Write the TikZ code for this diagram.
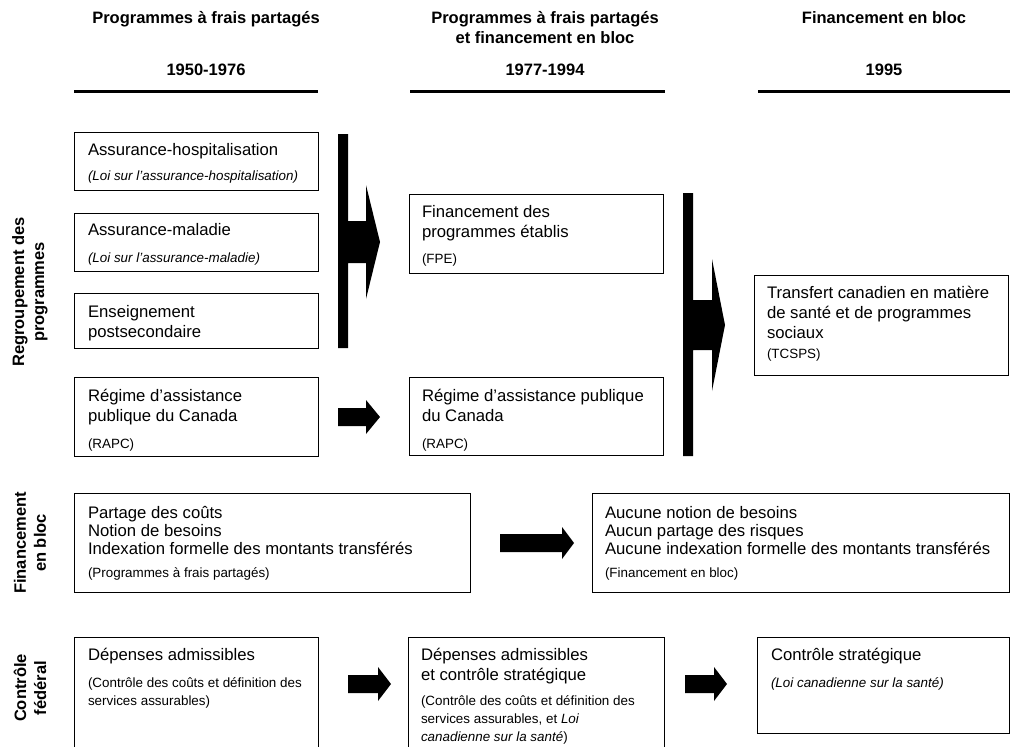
\documentclass[tikz,border=0pt]{standalone}
\usepackage{fontspec}
\setmainfont{Liberation Sans}
\newcommand{\fmain}{\fontsize{16.7}{19.8}\selectfont}
\newcommand{\fmainb}{\fontsize{16.7}{18.3}\selectfont}
\newcommand{\fsmall}{\fontsize{13.4}{18}\selectfont}
\newcommand{\fhead}{\fontsize{16.5}{20}\selectfont\bfseries}
\newcommand{\mybox}[5]{\node[box, minimum width={#4-#2}, minimum height={#5-#3}] (#1) at (#2,#3) {};}
\begin{document}
\begin{tikzpicture}[x=1pt,y=-1pt,
  box/.style={draw, line width=0.9pt, inner sep=0pt, outer sep=0pt, anchor=north west},
  txt/.style={anchor=north west, inner sep=0pt, outer sep=0pt, align=left, font=\fmain},
  txtb/.style={anchor=north west, inner sep=0pt, outer sep=0pt, align=left, font=\fmainb},
  stxt/.style={anchor=north west, inner sep=0pt, outer sep=0pt, align=left, font=\fsmall},
  hd/.style={anchor=north, inner sep=0pt, outer sep=0pt, align=center, font=\fhead},
  lbl/.style={rotate=90, inner sep=0pt, outer sep=0pt, align=center, font=\fhead},
  rule/.style={line width=3pt},
  blockarrow/.style={fill=black, draw=none}]
\useasboundingbox (0,0) rectangle (1013,747);
\fill[white] (0,0) rectangle (1013,747);

% headers
\node[hd] (h1) at (206,9) {\strut Programmes à frais partagés};
\node[hd] (h2) at (545,9) {\strut Programmes à frais partagés\\et financement en bloc};
\node[hd] (h3) at (884,9) {\strut Financement en bloc};
\node[hd] (y1) at (206,61) {\strut 1950-1976};
\node[hd] (y2) at (545,61) {\strut 1977-1994};
\node[hd] (y3) at (884,61) {\strut 1995};
\coordinate (r1a) at (74,91);  \coordinate (r1b) at (318,91);
\coordinate (r2a) at (410,91); \coordinate (r2b) at (665,91);
\coordinate (r3a) at (758,91); \coordinate (r3b) at (1010,91);
\draw[rule] (r1a) -- (r1b);
\draw[rule] (r2a) -- (r2b);
\draw[rule] (r3a) -- (r3b);

% side labels
\node[lbl] (s1) at (30,292) {Regroupement des\\programmes};
\node[lbl] (s2) at (30,543) {Financement\\en bloc};
\node[lbl] (s3) at (30,688) {Contrôle\\fédéral};

% row 1 boxes
\mybox{a1}{74}{132}{318}{190}
\mybox{a2}{74}{213}{318}{271}
\mybox{a3}{74}{293}{318}{348}
\mybox{a4}{74}{377}{318}{456}
\mybox{b1}{409}{194}{663}{273}
\mybox{b2}{409}{377}{663}{455}
\mybox{c1}{754}{275}{1008}{375}

\node[txt] (a1t) at (88,142.1) {\strut Assurance-hospitalisation};
\node[stxt] (a1s) at (88,167.4) {\strut\itshape (Loi sur l’assurance-hospitalisation)};
\node[txt] (a2t) at (88,222.1) {\strut Assurance-maladie};
\node[stxt] (a2s) at (88,249.4) {\strut\itshape (Loi sur l’assurance-maladie)};
\node[txt] (a3t) at (88,304.1) {\strut Enseignement\\postsecondaire};
\node[txt] (a4t) at (88,388.1) {\strut Régime d’assistance\\publique du Canada};
\node[stxt] (a4s) at (88,435.4) {\strut (RAPC)};
\node[txt] (b1t) at (422,204.1) {\strut Financement des\\programmes établis};
\node[stxt] (b1s) at (422,250.4) {\strut (FPE)};
\node[txt] (b2t) at (422,388.1) {\strut Régime d’assistance publique\\du Canada};
\node[stxt] (b2s) at (422,435.4) {\strut (RAPC)};
\node[txt] (c1t) at (767,285.1) {\strut Transfert canadien en matière\\de santé et de programmes\\sociaux};
\node[stxt] (c1s) at (767,345.4) {\strut (TCSPS)};

% row 1 arrows
\fill[blockarrow] (338,134) -- (348,134) -- (348,221) -- (366,221) -- (366,185) -- (380,242)
  -- (366,299) -- (366,263) -- (348,263) -- (348,348) -- (338,348) -- cycle;
\fill[blockarrow] (338,408) -- (366,408) -- (366,400) -- (380,417) -- (366,434) -- (366,426)
  -- (338,426) -- cycle;
\fill[blockarrow] (683,193) -- (693,193) -- (693,300) -- (712,300) -- (712,259) -- (725,325)
  -- (712,391) -- (712,350) -- (693,350) -- (693,456) -- (683,456) -- cycle;

% row 2
\mybox{d1}{74}{493}{470}{592}
\mybox{d2}{592}{493}{1009}{592}
\node[txtb] (d1t) at (88,505.2) {\strut Partage des coûts\\Notion de besoins\\Indexation formelle des montants transférés};
\node[stxt] (d1s) at (88,564.4) {\strut (Programmes à frais partagés)};
\node[txtb] (d2t) at (605,505.2) {\strut Aucune notion de besoins\\Aucun partage des risques\\Aucune indexation formelle des montants transférés};
\node[stxt] (d2s) at (605,564.4) {\strut (Financement en bloc)};
\fill[blockarrow] (500,534) -- (562,534) -- (562,527) -- (574,543) -- (562,559) -- (562,552)
  -- (500,552) -- cycle;

% row 3
\mybox{e1}{74}{637}{318}{749}
\mybox{e2}{408}{637}{664}{749}
\mybox{e3}{757}{637}{1009}{733}
\node[txt] (e1t) at (88,647.1) {\strut Dépenses admissibles};
\node[stxt] (e1s) at (88,674.4) {\strut (Contrôle des coûts et définition des\\services assurables)};
\node[txt] (e2t) at (421,647.1) {\strut Dépenses admissibles\\et contrôle stratégique};
\node[stxt] (e2s) at (421,692.4) {\strut (Contrôle des coûts et définition des\\services assurables, et \textit{Loi}\\\textit{canadienne sur la santé})};
\node[txt] (e3t) at (771,647.1) {\strut Contrôle stratégique};
\node[stxt] (e3s) at (771,674.4) {\strut\itshape (Loi canadienne sur la santé)};
\fill[blockarrow] (348,675) -- (378,675) -- (378,667) -- (391,684) -- (378,701) -- (378,693)
  -- (348,693) -- cycle;
\fill[blockarrow] (685,675) -- (714,675) -- (714,667) -- (727,684) -- (714,701) -- (714,693)
  -- (685,693) -- cycle;
\end{tikzpicture}
\end{document}
